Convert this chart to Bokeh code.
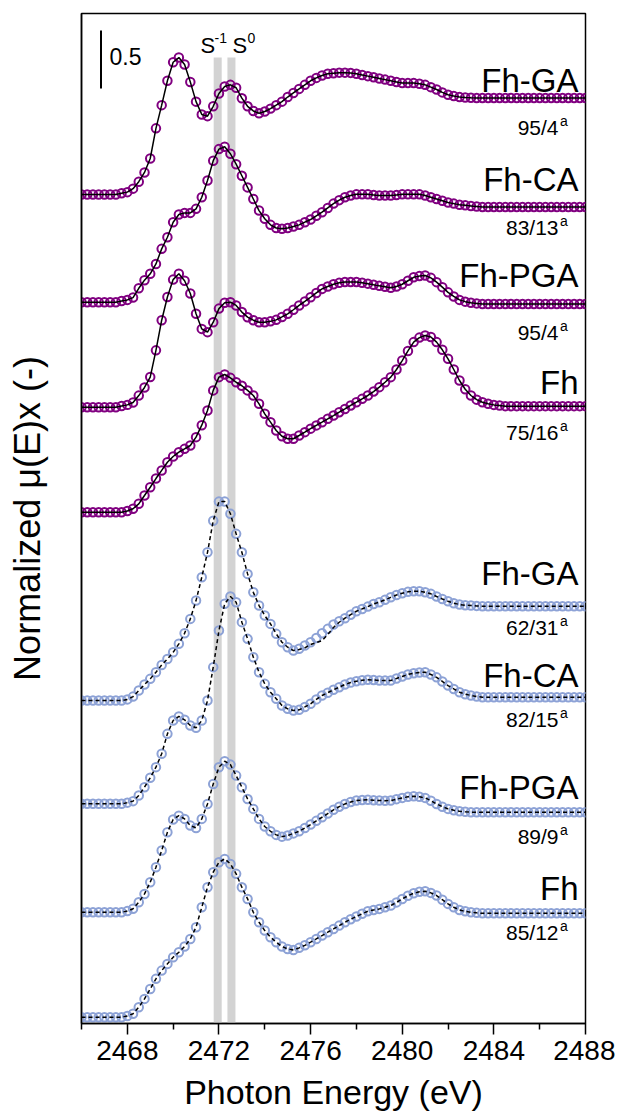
from bokeh.plotting import figure
from bokeh.models import Range1d, FixedTicker
from bokeh.core.properties import value
from bokeh.embed import file_html
from bokeh.resources import INLINE

# ---------------- data ----------------
energy = [
    2466.00, 2466.25, 2466.50, 2466.75, 2467.00, 2467.25, 2467.50, 2467.75, 2468.00, 2468.25,
    2468.50, 2468.75, 2469.00, 2469.25, 2469.50, 2469.75, 2470.00, 2470.25, 2470.50, 2470.75,
    2471.00, 2471.25, 2471.50, 2471.75, 2472.00, 2472.25, 2472.50, 2472.75, 2473.00, 2473.25,
    2473.50, 2473.75, 2474.00, 2474.25, 2474.50, 2474.75, 2475.00, 2475.25, 2475.50, 2475.75,
    2476.00, 2476.25, 2476.50, 2476.75, 2477.00, 2477.25, 2477.50, 2477.75, 2478.00, 2478.25,
    2478.50, 2478.75, 2479.00, 2479.25, 2479.50, 2479.75, 2480.00, 2480.25, 2480.50, 2480.75,
    2481.00, 2481.25, 2481.50, 2481.75, 2482.00, 2482.25, 2482.50, 2482.75, 2483.00, 2483.25,
    2483.50, 2483.75, 2484.00, 2484.25, 2484.50, 2484.75, 2485.00, 2485.25, 2485.50, 2485.75,
    2486.00, 2486.25, 2486.50, 2486.75, 2487.00, 2487.25, 2487.50, 2487.75, 2488.00,
]

# purple set
p_ga = [
    0, 0, 0, 0, 0, 0, 0, 0.01, 0.02, 0.05,
    0.11, 0.19, 0.31, 0.57, 0.77, 0.98, 1.14, 1.18, 1.12, 0.97,
    0.80, 0.69, 0.675, 0.76, 0.87, 0.93, 0.945, 0.92, 0.83, 0.76,
    0.72, 0.70, 0.715, 0.74, 0.77, 0.80, 0.84, 0.875, 0.91, 0.945,
    0.98, 1.005, 1.025, 1.04, 1.045, 1.05, 1.05, 1.048, 1.04, 1.03,
    1.02, 1.01, 1.0, 0.99, 0.98, 0.97, 0.96, 0.96, 0.96, 0.955,
    0.945, 0.925, 0.905, 0.88, 0.86, 0.848, 0.84, 0.836, 0.833, 0.832,
    0.832, 0.832, 0.832, 0.832, 0.832, 0.832, 0.832, 0.832, 0.832, 0.832,
    0.832, 0.832, 0.832, 0.832, 0.832, 0.832, 0.832, 0.832, 0.832,
]
p_ca = [
    0, 0, 0, 0, 0, 0, 0, 0.01, 0.02, 0.04,
    0.12, 0.19, 0.245, 0.33, 0.46, 0.56, 0.69, 0.756, 0.77, 0.77,
    0.805, 0.905, 1.05, 1.22, 1.32, 1.34, 1.28, 1.19, 1.09, 0.99,
    0.89, 0.79, 0.72, 0.667, 0.64, 0.633, 0.64, 0.653, 0.667, 0.69,
    0.713, 0.745, 0.776, 0.813, 0.85, 0.88, 0.905, 0.92, 0.93, 0.93,
    0.93, 0.925, 0.92, 0.92, 0.92, 0.925, 0.93, 0.93, 0.93, 0.93,
    0.92, 0.905, 0.89, 0.875, 0.86, 0.85, 0.84, 0.835, 0.83, 0.825,
    0.82, 0.82, 0.82, 0.82, 0.82, 0.82, 0.82, 0.82, 0.82, 0.82,
    0.82, 0.82, 0.82, 0.82, 0.82, 0.82, 0.82, 0.82, 0.82,
]
p_pga = [
    0, 0, 0, 0, 0, 0, 0, 0.01, 0.02, 0.04,
    0.10, 0.17, 0.26, 0.49, 0.75, 0.95, 1.10, 1.15, 1.09, 0.98,
    0.805, 0.675, 0.647, 0.733, 0.85, 0.90, 0.905, 0.877, 0.82, 0.776,
    0.75, 0.733, 0.733, 0.74, 0.753, 0.778, 0.805, 0.84, 0.877, 0.912,
    0.948, 0.985, 1.02, 1.04, 1.06, 1.072, 1.08, 1.08, 1.08, 1.073,
    1.065, 1.055, 1.046, 1.038, 1.03, 1.04, 1.06, 1.09, 1.12, 1.13,
    1.135, 1.115, 1.078, 1.035, 0.99, 0.955, 0.925, 0.91, 0.90, 0.895,
    0.89, 0.89, 0.89, 0.89, 0.89, 0.89, 0.89, 0.89, 0.89, 0.89,
    0.89, 0.89, 0.89, 0.89, 0.89, 0.89, 0.89, 0.89, 0.89,
]
p_fh = [
    0, 0, 0, 0, 0, 0, 0, 0, 0.01, 0.03,
    0.072, 0.144, 0.215, 0.29, 0.36, 0.43, 0.48, 0.517, 0.546, 0.575,
    0.647, 0.75, 0.877, 1.05, 1.164, 1.187, 1.158, 1.12, 1.09, 1.05,
    1.006, 0.934, 0.848, 0.776, 0.704, 0.655, 0.633, 0.633, 0.661, 0.69,
    0.72, 0.748, 0.776, 0.805, 0.833, 0.862, 0.89, 0.92, 0.948, 0.977,
    1.006, 1.04, 1.078, 1.12, 1.164, 1.23, 1.307, 1.39, 1.466, 1.505,
    1.523, 1.51, 1.466, 1.40, 1.322, 1.23, 1.135, 1.06, 1.006, 0.97,
    0.948, 0.935, 0.925, 0.92, 0.914, 0.914, 0.914, 0.914, 0.914, 0.914,
    0.914, 0.914, 0.914, 0.914, 0.914, 0.914, 0.914, 0.914, 0.914,
]

# blue set
b_ga = [
    0, 0, 0, 0, 0, 0, 0, 0, 0.01, 0.034,
    0.086, 0.138, 0.187, 0.244, 0.307, 0.359, 0.416, 0.489, 0.58, 0.704,
    0.862, 1.063, 1.278, 1.55, 1.715, 1.715, 1.61, 1.437, 1.278, 1.092,
    0.933, 0.819, 0.733, 0.661, 0.575, 0.503, 0.46, 0.431, 0.446, 0.474,
    0.503, 0.54, 0.58, 0.618, 0.655, 0.683, 0.71, 0.74, 0.77, 0.79,
    0.81, 0.833, 0.848, 0.868, 0.89, 0.91, 0.925, 0.937, 0.942, 0.942,
    0.933, 0.92, 0.897, 0.876, 0.856, 0.839, 0.828, 0.822, 0.819, 0.816,
    0.813, 0.813, 0.813, 0.813, 0.813, 0.813, 0.813, 0.813, 0.813, 0.813,
    0.813, 0.813, 0.813, 0.813, 0.813, 0.813, 0.813, 0.813, 0.813,
]
b_ga_fit = [
    0, 0, 0, 0, 0, 0, 0, 0, 0.01, 0.034,
    0.086, 0.138, 0.187, 0.244, 0.307, 0.359, 0.416, 0.489, 0.58, 0.704,
    0.862, 1.063, 1.278, 1.55, 1.715, 1.715, 1.61, 1.437, 1.278, 1.092,
    0.933, 0.819, 0.733, 0.661, 0.575, 0.503, 0.46, 0.431, 0.44, 0.455,
    0.483, 0.50, 0.517, 0.569, 0.63, 0.675, 0.71, 0.74, 0.77, 0.79,
    0.81, 0.833, 0.848, 0.868, 0.89, 0.91, 0.925, 0.937, 0.942, 0.942,
    0.933, 0.92, 0.897, 0.876, 0.856, 0.839, 0.828, 0.822, 0.819, 0.816,
    0.813, 0.813, 0.813, 0.813, 0.813, 0.813, 0.813, 0.813, 0.813, 0.813,
    0.813, 0.813, 0.813, 0.813, 0.813, 0.813, 0.813, 0.813, 0.813,
]
b_ca = [
    0, 0, 0, 0, 0, 0, 0, 0, 0.01, 0.023,
    0.072, 0.143, 0.224, 0.316, 0.431, 0.603, 0.718, 0.753, 0.724, 0.675,
    0.655, 0.718, 0.89, 1.178, 1.494, 1.724, 1.787, 1.738, 1.566, 1.422,
    1.264, 1.134, 1.034, 0.962, 0.905, 0.848, 0.819, 0.804, 0.81, 0.835,
    0.862, 0.9, 0.934, 0.958, 0.983, 1.005, 1.029, 1.045, 1.057, 1.065,
    1.069, 1.067, 1.063, 1.062, 1.063, 1.08, 1.098, 1.115, 1.126, 1.132,
    1.134, 1.115, 1.09, 1.055, 1.019, 0.99, 0.962, 0.945, 0.934, 0.925,
    0.919, 0.919, 0.919, 0.919, 0.919, 0.919, 0.919, 0.919, 0.919, 0.919,
    0.919, 0.919, 0.919, 0.919, 0.919, 0.919, 0.919, 0.919, 0.919,
]
b_pga = [
    0, 0, 0, 0, 0, 0, 0, 0, 0.01, 0.03,
    0.086, 0.158, 0.259, 0.388, 0.532, 0.69, 0.80, 0.833, 0.805, 0.747,
    0.727, 0.805, 0.934, 1.106, 1.25, 1.302, 1.273, 1.178, 1.078, 0.977,
    0.891, 0.805, 0.739, 0.698, 0.667, 0.652, 0.661, 0.68, 0.698, 0.727,
    0.756, 0.788, 0.819, 0.851, 0.883, 0.91, 0.934, 0.95, 0.963, 0.967,
    0.969, 0.966, 0.963, 0.962, 0.963, 0.975, 0.986, 0.995, 1.0, 0.996,
    0.986, 0.962, 0.934, 0.91, 0.891, 0.88, 0.871, 0.866, 0.862, 0.862,
    0.862, 0.862, 0.862, 0.862, 0.862, 0.862, 0.862, 0.862, 0.862, 0.862,
    0.862, 0.862, 0.862, 0.862, 0.862, 0.862, 0.862, 0.862, 0.862,
]
b_fh = [
    0, 0, 0, 0, 0, 0, 0, 0, 0.01, 0.03,
    0.086, 0.158, 0.244, 0.331, 0.402, 0.46, 0.517, 0.56, 0.61, 0.675,
    0.776, 0.948, 1.121, 1.25, 1.336, 1.365, 1.322, 1.236, 1.121, 1.02,
    0.905, 0.819, 0.747, 0.69, 0.647, 0.61, 0.589, 0.58, 0.598, 0.62,
    0.647, 0.675, 0.704, 0.733, 0.761, 0.79, 0.819, 0.845, 0.868, 0.892,
    0.914, 0.925, 0.934, 0.948, 0.963, 0.99, 1.02, 1.047, 1.069, 1.082,
    1.086, 1.072, 1.049, 1.013, 0.977, 0.948, 0.925, 0.913, 0.905, 0.9,
    0.896, 0.896, 0.896, 0.896, 0.896, 0.896, 0.896, 0.896, 0.896, 0.896,
    0.896, 0.896, 0.896, 0.896, 0.896, 0.896, 0.896, 0.896, 0.896,
]

offsets = [7.147, 6.218, 5.313, 4.408, 2.784, 1.894, 0.959, 0.054]
names = ["Fh-GA", "Fh-CA", "Fh-PGA", "Fh", "Fh-GA", "Fh-CA", "Fh-PGA", "Fh"]
ratios = ["95/4", "83/13", "95/4", "75/16", "62/31", "82/15", "89/9", "85/12"]
ratio_sup = "a"

# S reference energies (grey bands) and their labels
band_left = [2471.77, 2472.37]
band_right = [2472.12, 2472.72]
band_text = ["S", "S"]
band_sup = ["-1", "0"]

scale_bar = 0.5
x_ticks = [2468, 2472, 2476, 2480, 2484, 2488]
x_minor = [2466, 2470, 2474, 2478, 2482, 2486]
x_title = "Photon Energy (eV)"
y_title = "Normalized μ(E)x (-)"

# ---------------- layout / style ----------------
X0, X1 = 2466, 2488
Y0, Y1 = 0, 8.707
FW, FH = 504, 1010
TOP, LEFT = 13, 81        # frame position on the page (px)
PXX = (X1 - X0) / FW      # data units per pixel, x
PXY = (Y1 - Y0) / FH      # data units per pixel, y


def ypix(py):
    """data y for a page pixel row"""
    return Y1 - (py - TOP) * PXY


def xpix(px):
    """data x for a page pixel column"""
    return X0 + (px - LEFT) * PXX


PURPLE = "#800080"
BLUE = "#8da2d6"
FONT = "Liberation Sans"

curves = [p_ga, p_ca, p_pga, p_fh, b_ga, b_ca, b_pga, b_fh]
fits = [p_ga, p_ca, p_pga, p_fh, b_ga_fit, b_ca, b_pga, b_fh]
colors = [PURPLE] * 4 + [BLUE] * 4
dashes = ["solid"] * 4 + ["4 3"] * 4

name_rows = [80, 179, 275, 382, 573, 675, 787, 888]
ratio_rows = [127, 227, 332, 432, 627, 719, 836, 932]

p = figure(
    frame_width=FW, frame_height=FH,
    x_range=Range1d(X0, X1), y_range=Range1d(Y0, Y1),
    output_backend="svg", toolbar_location=None,
    min_border_left=LEFT, min_border_right=30, min_border_top=TOP, min_border_bottom=0,
    background_fill_color="white", border_fill_color="white",
)
p.xgrid.visible = False
p.ygrid.visible = False
p.outline_line_color = "black"
p.outline_line_width = 1.5

# grey bands
p.quad(left=band_left, right=band_right, bottom=Y0, top=ypix(57),
       fill_color="#d3d3d3", line_color=None)

# spectra + fits
for vals, fvals, off, col, dash in zip(curves, fits, offsets, colors, dashes):
    ys = [off + v for v in vals]
    yf = [off + v for v in fvals]
    p.scatter(energy, ys, marker="circle", size=8.5, line_color=col, line_width=2,
              fill_color=None)
    p.line(energy, yf, line_color="black", line_width=1.5, line_dash=dash)

# sample names and ratios
p.text(x=[xpix(578)] * len(names), y=[ypix(r) for r in name_rows], text=names,
       text_align="right", text_baseline="alphabetic", text_font=value(FONT),
       text_font_size="33px", text_color="black")
p.text(x=[xpix(558)] * len(ratios), y=[ypix(r) for r in ratio_rows], text=ratios,
       text_align="right", text_baseline="alphabetic", text_font=value(FONT),
       text_font_size="21px", text_color="black")
p.text(x=[xpix(559.5)] * len(ratios), y=[ypix(r - 7) for r in ratio_rows],
       text=[ratio_sup] * len(ratios), text_align="left", text_baseline="alphabetic",
       text_font=value(FONT), text_font_size="14px", text_color="black")

# S labels above bands
p.text(x=[xpix(200), xpix(232)], y=[ypix(45)] * 2, text=band_text,
       text_align="left", text_baseline="alphabetic", text_font=value(FONT),
       text_font_size="22px", text_color="black")
p.text(x=[xpix(214), xpix(247)], y=[ypix(37)] * 2, text=band_sup,
       text_align="left", text_baseline="alphabetic", text_font=value(FONT),
       text_font_size="14px", text_color="black")

# scale bar
bar_x = xpix(100.5)
bar_top = ypix(30)
p.line([bar_x, bar_x], [bar_top - scale_bar, bar_top], line_color="black", line_width=2)
p.text(x=[xpix(109)], y=[ypix(56)], text=[str(scale_bar)],
       text_align="left", text_baseline="alphabetic", text_font=value(FONT),
       text_font_size="23px", text_color="black")

# axes
xa = p.xaxis[0]
xa.ticker = FixedTicker(ticks=x_ticks, minor_ticks=x_minor)
xa.axis_label = x_title
xa.axis_label_text_font = FONT
xa.axis_label_text_font_size = "34px"
xa.axis_label_text_font_style = "normal"
xa.axis_label_text_color = "black"
xa.axis_label_standoff = 10
xa.major_label_text_font = FONT
xa.major_label_text_font_size = "28px"
xa.major_label_text_color = "black"
xa.major_label_standoff = 6
xa.major_tick_in = 0
xa.major_tick_out = 11
xa.minor_tick_in = 0
xa.minor_tick_out = 6
xa.axis_line_width = 1.5
xa.major_tick_line_width = 1.5
xa.minor_tick_line_width = 1.5
xa.axis_line_color = "black"
xa.major_tick_line_color = "black"
xa.minor_tick_line_color = "black"

ya = p.yaxis[0]
ya.ticker = FixedTicker(ticks=[])
ya.axis_label = y_title
ya.axis_label_text_font = FONT
ya.axis_label_text_font_size = "36px"
ya.axis_label_text_font_style = "normal"
ya.axis_label_text_color = "black"
ya.axis_label_standoff = 34
ya.major_tick_out = 0
ya.major_tick_in = 0
ya.axis_line_width = 1.5
ya.axis_line_color = "black"
ya.major_tick_line_color = None
ya.minor_tick_line_color = None

open("out.html", "w").write(file_html(p, INLINE))
